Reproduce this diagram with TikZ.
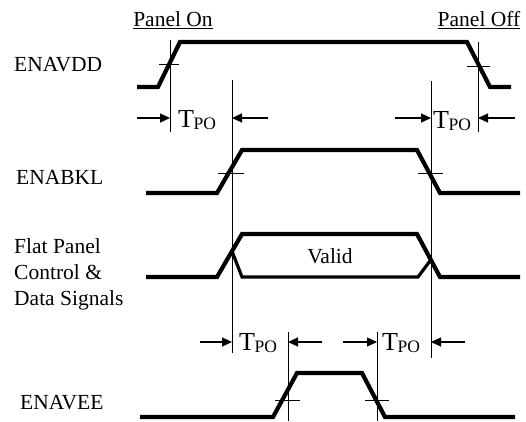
\documentclass[tikz,border=0pt]{standalone}
\usepackage{fontspec}
\setmainfont{Liberation Serif}
\usetikzlibrary{arrows.meta,positioning,calc}
\newcommand{\tpotext}{T\kern-0.5pt\raisebox{-2.5pt}{\fontsize{17.5}{17.5}\selectfont PO}}

\begin{document}
\begin{tikzpicture}[x=1pt,y=-1pt,>={Triangle[length=10pt,width=9pt]},
  sig/.style={line width=4.2pt},
  guide/.style={line width=0.7pt},
  xtick/.style={line width=0.7pt},
  dim/.style={->,line width=1.2pt},
  lbl/.style={font=\fontsize{21.5}{26}\selectfont,anchor=west,inner sep=0pt,align=left},
  head/.style={font=\fontsize{21.5}{26}\selectfont,inner sep=0pt},
  tpo/.style={font=\fontsize{26}{26}\selectfont,inner sep=0pt,anchor=base west}]
\useasboundingbox (0,0) rectangle (526,421);

% headings and signal names
\node[head] (on) at (173,20) {\underline{Panel On}};
\node[head] (off) at (479,20) {\underline{Panel Off}};
\node[lbl] (vdd) at (14,65) {ENAVDD};
\node[lbl] (bkl) at (16,177) {ENABKL};
\node[lbl] (fpd) at (14,274) {Flat Panel\\Control \&\\Data Signals};
\node[lbl] (vee) at (20,403) {ENAVEE};

% waveforms
\draw[sig] (137,87) -- (158,87) -- (180,42) -- (467,42) -- (490,87) -- (511,87);
\draw[sig] (146,193) -- (217,193) -- (242,150) -- (417,150) -- (440,193) -- (520,193);
\coordinate (xa) at ($(217,277)!0.6!(242,234)$);
\coordinate (xb) at ($(417,234)!0.6!(440,277)$);
\draw[sig] (146,277) -- (217,277) -- (242,234) -- (417,234) -- (440,277) -- (520,277);
\draw[sig,line width=3.2pt] (xa) -- (242,277) -- (418,277) -- (xb);
\node[head] (valid) at (330,256) {Valid};
\draw[sig] (140,417) -- (273,417) -- (297,373) -- (362,373) -- (385,417) -- (515,417);

% timing references
\coordinate (r1) at (170,118);
\coordinate (r2) at (232,118);
\coordinate (r3) at (431,118);
\coordinate (r4) at (478,118);
\coordinate (r5) at (232,342);
\coordinate (r6) at (288,342);
\coordinate (r7) at (377,342);
\coordinate (r8) at (431,342);
\draw[guide] (170,40) -- (170,132);
\draw[guide] (232,80) -- (232,353);
\draw[guide] (431,81) -- (431,358);
\draw[guide] (478,42) -- (478,132);
\draw[guide] (288,332) -- (288,421);
\draw[guide] (377,332) -- (377,421);
\draw[xtick] (159,64) -- (179,64);
\draw[xtick] (467,66) -- (490,66);
\draw[xtick] (218,173) -- (244,173);
\draw[xtick] (418,173) -- (443,173);
\draw[xtick] (275,400) -- (300,400);
\draw[xtick] (365,400) -- (389,400);

% T_PO dimensions
\coordinate (t1) at (137,118);
\coordinate (t2) at (268,118);
\coordinate (t3) at (395,118);
\coordinate (t4) at (515,118);
\coordinate (t5) at (200,342);
\coordinate (t6) at (322,342);
\coordinate (t7) at (343,342);
\coordinate (t8) at (465,342);
\draw[dim] (t1) -- (r1);
\draw[dim] (t2) -- (r2);
\draw[dim] (t3) -- (r3);
\draw[dim] (t4) -- (r4);
\draw[dim] (t5) -- (r5);
\draw[dim] (t6) -- (r6);
\draw[dim] (t7) -- (r7);
\draw[dim] (t8) -- (r8);
\node[tpo] (p1) at (178,127) {\tpotext};
\node[tpo] (p2) at (433,128) {\tpotext};
\node[tpo] (p3) at (239,350) {\tpotext};
\node[tpo] (p4) at (382,350) {\tpotext};
\end{tikzpicture}
\end{document}
